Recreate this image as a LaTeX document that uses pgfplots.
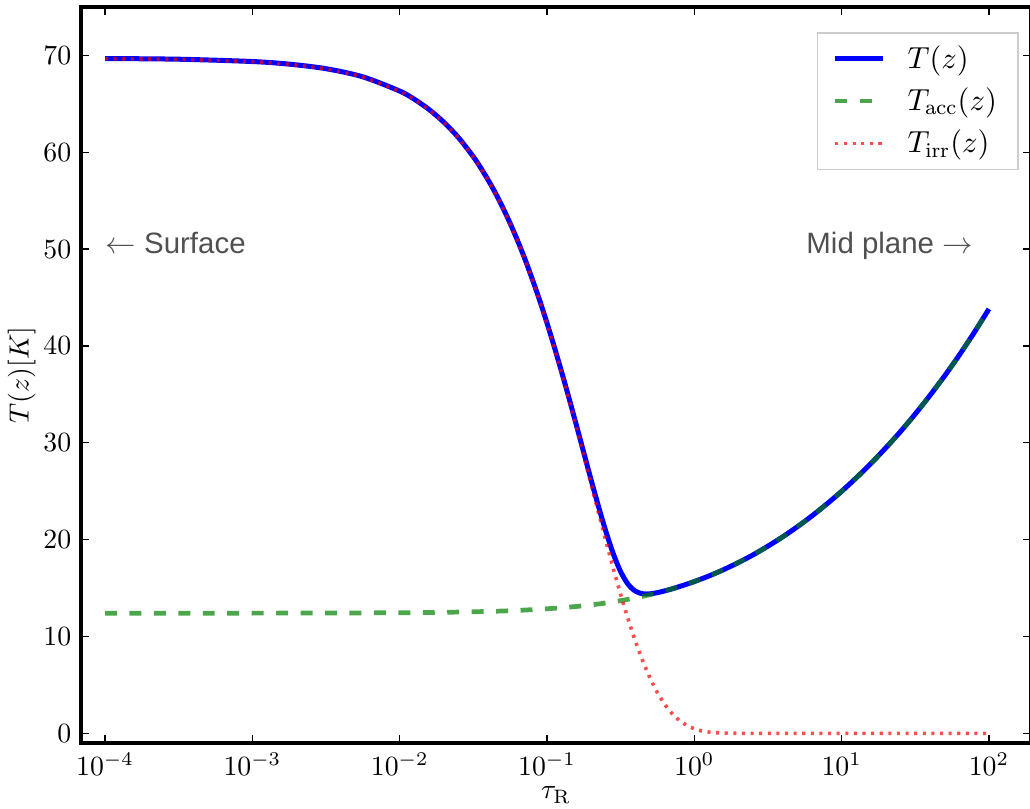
\documentclass[border=0pt]{standalone}
\usepackage{fontspec}
\newfontfamily\annfont{Liberation Sans}
\usepackage{pgfplots}
\pgfplotsset{compat=1.18}
\definecolor{anngray}{RGB}{80,80,80}
\definecolor{mgreen}{RGB}{0,128,0}
\begin{document}
\begin{tikzpicture}
\useasboundingbox (-29.16pt,-23.4pt) rectangle (341.64pt,267.48pt);
\begin{axis}[
  at={(0,0)}, anchor=south west,
  scale only axis, width=342pt, height=264.96pt,
  xmode=log, log basis x=10,
  xmin=6.87e-5, xmax=193, ymin=-1, ymax=75,
  xtick={1e-4,1e-3,1e-2,1e-1,1,10,100},
  ytick={0,10,20,30,40,50,60,70},
  axis line style={line width=1.1pt},
  tick align=inside, xtick pos=both, ytick pos=both,
  major tick length=2.9pt, minor tick length=1.5pt,
  tick style={black, line width=0.45pt},
  xlabel={$\tau_{\rm R}$}, ylabel={$T(z) [K]$},
  xlabel style={at={(axis description cs:0.5,-0.071)}, anchor=center},
  ylabel style={at={(axis description cs:-0.0625,0.5)}, anchor=center, rotate=0},
  legend cell align=left,
  legend style={at={(1,1)}, anchor=north east, xshift=-4.5pt, yshift=-9pt,
    draw=black!20, line width=0.6pt, font=\fontsize{10.8}{13}\selectfont,
    row sep=1.5pt, inner xsep=5.5pt, inner ysep=2.5pt},
]
\addplot[blue, line width=1.8pt, smooth] coordinates {
(1e-4,69.68)(3.162e-4,69.61)(1e-3,69.37)(1.778e-3,69.10)(3.162e-3,68.63)(5.623e-3,67.79)
(1e-2,66.32)(1.2589e-2,65.47)(1.5849e-2,64.41)(1.9953e-2,63.10)(2.5119e-2,61.50)
(3.1623e-2,59.54)(3.5481e-2,58.40)(3.9811e-2,57.15)(4.4668e-2,55.79)(5.0119e-2,54.29)
(5.6234e-2,52.66)(6.3096e-2,50.89)(7.0795e-2,48.98)(7.9433e-2,46.91)(8.9125e-2,44.72)
(0.1,42.37)(0.1122,39.88)(0.12589,37.28)(0.14125,34.58)(0.15849,31.79)(0.17783,28.97)
(0.19953,26.14)(0.22387,23.41)(0.25119,20.83)(0.28184,18.54)(0.31623,16.69)(0.35481,15.40)
(0.39811,14.68)(0.44668,14.41)(0.50119,14.40)(0.56234,14.53)(0.63096,14.71)(0.70795,14.92)
(0.79433,15.16)(0.89125,15.41)(1,15.67)(1.2589,16.25)(1.5849,16.91)(1.9953,17.64)
(2.5119,18.44)(3.1623,19.33)(3.9811,20.29)(5.0119,21.34)(6.3096,22.47)(7.9433,23.69)
(10,24.99)(12.589,26.39)(15.849,27.88)(19.953,29.48)(25.119,31.17)(31.623,32.98)
(39.811,34.90)(50.119,36.93)(63.096,39.09)(79.433,41.39)(100,43.82)
};
\addlegendentry{\hspace{6pt}$T(z)$}
\addplot[mgreen, opacity=0.7, line width=1.7pt, dash pattern=on 4.3pt off 4.5pt, smooth] coordinates {
(1e-4,12.40)(3.162e-4,12.40)(1e-3,12.41)(3.162e-3,12.42)(1e-2,12.45)(1.2589e-2,12.46)
(1.5849e-2,12.48)(1.9953e-2,12.50)(2.5119e-2,12.52)(3.1623e-2,12.55)(3.9811e-2,12.59)
(5.0119e-2,12.63)(6.3096e-2,12.69)(7.9433e-2,12.77)(0.1,12.86)(0.12589,12.97)
(0.15849,13.10)(0.19953,13.26)(0.25119,13.46)(0.31623,13.70)(0.39811,13.98)
(0.50119,14.32)(0.63096,14.71)(0.79433,15.16)(1,15.67)(1.2589,16.25)(1.5849,16.91)
(1.9953,17.64)(2.5119,18.44)(3.1623,19.33)(3.9811,20.29)(5.0119,21.34)(6.3096,22.47)
(7.9433,23.69)(10,24.99)(12.589,26.39)(15.849,27.88)(19.953,29.48)(25.119,31.17)
(31.623,32.98)(39.811,34.90)(50.119,36.93)(63.096,39.09)(79.433,41.39)(100,43.82)
};
\addlegendentry{\hspace{6pt}$T_{\rm acc}(z)$}
\addplot[red, opacity=0.7, line width=1.3pt, dash pattern=on 1.1pt off 2pt, smooth, tension=0.3] coordinates {
(1e-4,69.67)(3.162e-4,69.59)(1e-3,69.35)(1.778e-3,69.08)(3.162e-3,68.61)(5.623e-3,67.77)
(1e-2,66.30)(1.2589e-2,65.45)(1.5849e-2,64.39)(1.9953e-2,63.08)(2.5119e-2,61.47)
(3.1623e-2,59.51)(3.5481e-2,58.37)(3.9811e-2,57.12)(4.4668e-2,55.75)(5.0119e-2,54.25)
(5.6234e-2,52.62)(6.3096e-2,50.84)(7.0795e-2,48.92)(7.9433e-2,46.85)(8.9125e-2,44.64)
(0.1,42.28)(0.1122,39.77)(0.12589,37.14)(0.14125,34.40)(0.15849,31.56)(0.17783,28.65)
(0.19953,25.70)(0.22387,22.76)(0.25119,19.85)(0.28184,17.03)(0.31623,14.34)(0.35481,11.83)
(0.39811,9.52)(0.44668,7.47)(0.50119,5.69)(0.56234,4.19)(0.63096,2.97)(0.70795,2.02)
(0.79433,1.31)(0.89125,0.81)(1,0.47)(1.122,0.25)(1.2589,0.13)(1.4125,0.06)(1.5849,0.03)
(1.9953,0.00)(3.1623,0)(10,0)(100,0)
};
\addlegendentry{\hspace{6pt}$T_{\rm irr}(z)$}
\node[anchor=base west, inner sep=0, text=anngray, font=\annfont\fontsize{10.6}{13}\selectfont]
  at (axis cs:1e-4,49.5) {$\leftarrow$ Surface};
\node[anchor=base east, inner sep=0, text=anngray, font=\annfont\fontsize{10.6}{13}\selectfont]
  at (axis cs:78.3,49.5) {Mid plane $\rightarrow$};
\end{axis}
\end{tikzpicture}
\end{document}
